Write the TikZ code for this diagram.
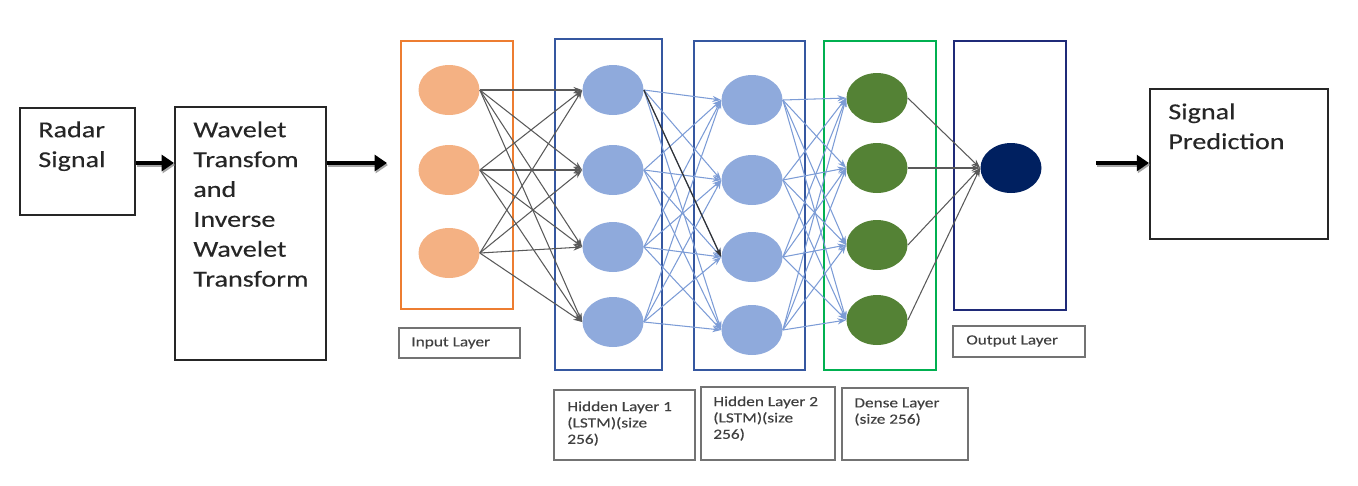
\documentclass[tikz,border=0pt]{standalone}
\usepackage{fontspec}
\setmainfont{Carlito}[FakeStretch=1.23,FakeBold=0.3]
\usetikzlibrary{fit,arrows.meta,shapes.geometric}
\definecolor{inorange}{HTML}{ED7D31}
\definecolor{peach}{HTML}{F4B183}
\definecolor{hblue}{HTML}{3557A0}
\definecolor{lblue}{HTML}{8FAADC}
\definecolor{dgreen}{HTML}{00B050}
\definecolor{ngreen}{HTML}{548235}
\definecolor{navyb}{HTML}{1F2A78}
\definecolor{navyn}{HTML}{002060}
\definecolor{cblue}{HTML}{4472C4}
\tikzset{
  pbox/.style={draw=black!85, line width=1.1pt, inner sep=0pt},
  layerbox/.style={line width=1.6pt, inner sep=0pt},
  lblbox/.style={draw=black!55, line width=1pt, inner sep=0pt},
  btext/.style={anchor=north west, align=left, font=\fontsize{13}{17}\selectfont, text=black!85, inner sep=0pt},
  ltext/.style={anchor=north west, align=left, font=\fontsize{8}{9.3}\selectfont, text=black!75, inner sep=0pt},
  neuron/.style={ellipse, minimum width=1.22cm, minimum height=1.0cm, inner sep=0pt},
  bigarrow/.style={line width=2.8pt, black, -{Triangle[length=7pt,width=9pt]}},
  conng/.style={black!65, line width=0.6pt, -{Stealth[length=5pt,width=3.5pt]}},
  connb/.style={cblue!70, line width=0.6pt, -{Stealth[length=5pt,width=3.5pt]}},
}
\begin{document}
\begin{tikzpicture}[x=0.02cm,y=-0.02cm]
\useasboundingbox (0,0) rectangle (1358,485);
% process boxes
\node[pbox, fit={(20,108) (135,215)}] (radar) {};
\node[btext] at (38,121) {Radar\\Signal};
\node[pbox, fit={(175,107) (326,360)}] (wave) {};
\node[btext] at (193,121) {Wavelet\\Transfom\\and\\Inverse\\Wavelet\\Transform};
\node[pbox, fit={(1150,89) (1328,239)}] (pred) {};
\node[btext] at (1168,103) {Signal\\Prediction};
% big arrows
\coordinate (a2e) at (387,163);
\coordinate (a3s) at (1096,163);
\draw[bigarrow, black!35] ([shift={(1,2)}]radar.east |- 0,163) -- ([shift={(1,2)}]wave.west |- 0,163);
\draw[bigarrow] (radar.east |- 0,163) -- (wave.west |- 0,163);
\draw[bigarrow, black!35] ([shift={(1,2)}]wave.east |- 0,163) -- ([shift={(1,2)}]a2e);
\draw[bigarrow] (wave.east |- 0,163) -- (a2e);
\draw[bigarrow, black!35] ([shift={(1,2)}]a3s) -- ([shift={(1,2)}]pred.west |- 0,163);
\draw[bigarrow] (a3s) -- (pred.west |- 0,163);
% layer boxes
\node[layerbox, draw=inorange, fit={(401,41) (513,309)}] (inbox) {};
\node[layerbox, draw=hblue, fit={(555,39) (662,370)}] (h1box) {};
\node[layerbox, draw=hblue, fit={(694,41) (805,370)}] (h2box) {};
\node[layerbox, draw=dgreen, fit={(824,41) (936,370)}] (dbox) {};
\node[layerbox, draw=navyb, fit={(954,41) (1066,310)}] (obox) {};
% neurons
\node[neuron, fill=peach] (i1) at (449,90) {};
\node[neuron, fill=peach] (i2) at (449,170) {};
\node[neuron, fill=peach] (i3) at (449,253) {};
\node[neuron, fill=lblue] (h1) at (613,90) {};
\node[neuron, fill=lblue] (h2) at (613,170) {};
\node[neuron, fill=lblue] (h3) at (613,247) {};
\node[neuron, fill=lblue] (h4) at (613,322) {};
\node[neuron, fill=lblue] (k1) at (752,100) {};
\node[neuron, fill=lblue] (k2) at (752,180) {};
\node[neuron, fill=lblue] (k3) at (752,257) {};
\node[neuron, fill=lblue] (k4) at (752,330) {};
\node[neuron, fill=ngreen] (d1) at (877,98) {};
\node[neuron, fill=ngreen] (d2) at (877,168) {};
\node[neuron, fill=ngreen] (d3) at (877,245) {};
\node[neuron, fill=ngreen] (d4) at (877,320) {};
\node[neuron, fill=navyn] (o1) at (1011,168) {};
% connections
\foreach \i in {1,2,3} \foreach \j in {1,2,3,4} \draw[conng] (i\i.east) -- (h\j.west);
\foreach \i in {1,2,3,4} \foreach \j in {1,2,3,4} \draw[connb] (h\i.east) -- (k\j.west);
\draw[black!80, line width=0.7pt, -{Stealth[length=5pt,width=3.5pt]}] (h1.east) -- (k3.west);
\foreach \i in {1,2,3,4} \foreach \j in {1,2,3,4} \draw[connb] (k\i.east) -- (d\j.west);
\foreach \i in {1,2,3,4} \draw[conng] (d\i.east) -- (o1.west);
% labels
\node[lblbox, fit={(399,328) (520,358)}] (linput) {};
\node[ltext] at (411,337) {Input Layer};
\node[lblbox, fit={(953,326) (1085,357)}] (loutput) {};
\node[ltext] at (966,335) {Output Layer};
\node[lblbox, fit={(554,390) (695,460)}] (lh1) {};
\node[ltext] at (567,401) {Hidden Layer 1\\(LSTM)(size\\256)};
\node[lblbox, fit={(701,387) (835,460)}] (lh2) {};
\node[ltext] at (713,396) {Hidden Layer 2\\(LSTM)(size\\256)};
\node[lblbox, fit={(842,388) (968,460)}] (ld) {};
\node[ltext] at (854,398) {Dense Layer\\(size 256)};
\end{tikzpicture}
\end{document}
